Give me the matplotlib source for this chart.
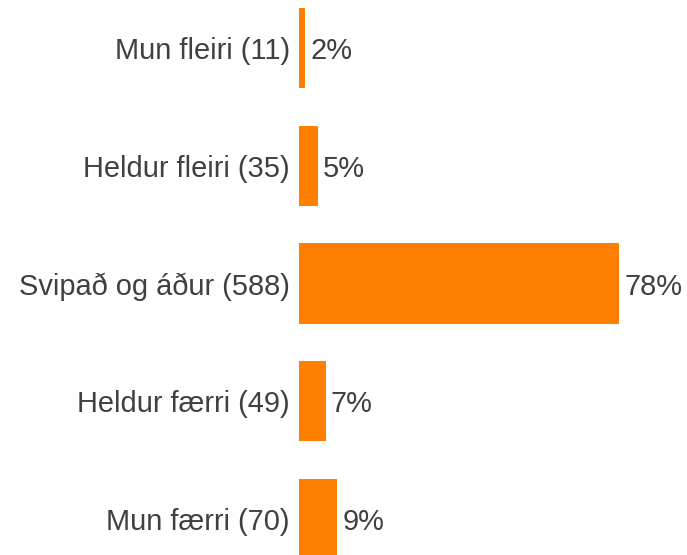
import matplotlib
matplotlib.use('Agg')
import matplotlib.pyplot as plt

# survey answers, top to bottom
labels = ["Mun fleiri (11)", "Heldur fleiri (35)", "Svipað og áður (588)",
          "Heldur færri (49)", "Mun færri (70)"]
shares = [1.5, 4.6, 78.1, 6.5, 9.3]
pct_text = ["2%", "5%", "78%", "7%", "9%"]

plt.rcParams['font.family'] = ['Liberation Sans', 'DejaVu Sans']

fig = plt.figure(figsize=(6.87, 5.55), dpi=100)
ax = fig.add_axes([299 / 687, 0, 388 / 687, 1])

ypos = list(range(len(labels)))
ax.barh(ypos, shares, height=0.68, color='#FF8000')

for y, v, t in zip(ypos, shares, pct_text):
    ax.text(v + 1.3, y, t, va='center_baseline', ha='left', fontsize=20.9,
            color='#404040')

ax.set_yticks(ypos)
ax.set_yticklabels(labels, fontsize=20.9, color='#404040')
for lab in ax.get_yticklabels():
    lab.set_verticalalignment('center_baseline')
ax.tick_params(axis='y', length=0, pad=6.5)
ax.set_xticks([])
ax.set_xlim(0, 94.7)
ax.set_ylim(4.306, -0.408)
for s in ax.spines.values():
    s.set_visible(False)

fig.savefig('out.png', dpi=100)
